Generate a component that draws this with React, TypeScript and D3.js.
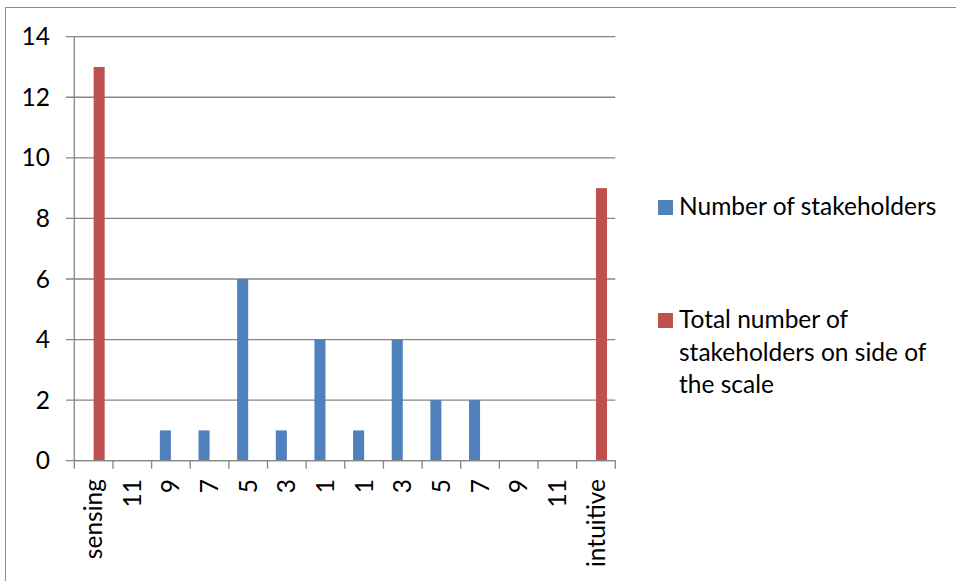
import React from "react";
import * as d3 from "d3";

// category labels along the scale, left (sensing) to right (intuitive)
const categories = ["sensing", "11", "9", "7", "5", "3", "1", "1", "3", "5", "7", "9", "11", "intuitive"];
const stakeholders = [0, 0, 1, 1, 6, 1, 4, 1, 4, 2, 2, 0, 0, 0];
const totals = [13, 0, 0, 0, 0, 0, 0, 0, 0, 0, 0, 0, 0, 9];
const yTicks = [0, 2, 4, 6, 8, 10, 12, 14];
const seriesNames = ["Number of stakeholders", "Total number of stakeholders on side of the scale"];
const legendLines = [["Number of stakeholders"], ["Total number of", "stakeholders on side of", "the scale"]];
const colors = ["#4F81BD", "#C0504D"];

const FONT = "Lato, 'Open Sans', sans-serif";
const FS = 24.5;

export default function App() {
  const width = 956;
  const height = 581;
  const margin = { top: 36.7, left: 74.3, right: 615.3, bottom: 460.7 };

  const x = d3.scaleBand<number>()
    .domain(categories.map((_, i) => i))
    .range([margin.left, margin.right])
    .padding(0);

  const xSub = d3.scaleBand<number>()
    .domain([0, 1])
    .range([0, x.bandwidth()])
    .paddingInner(0)
    .paddingOuter(0.75);

  const y = d3.scaleLinear().domain([0, 14]).range([margin.bottom, margin.top]);

  const series = [stakeholders, totals];
  const gridColor = "#868686";

  // tick boundaries between categories
  const bounds = categories.map((_, i) => x(i) as number).concat([margin.right]);

  return (
    <svg width={width} height={height} style={{ position: "absolute", left: 0, top: 0, background: "#fff" }}>
      <rect x={5.5} y={7.5} width={1200} height={1200} fill="#fff" stroke="#8c8c8c" strokeWidth={1} />

      {/* gridlines + y ticks */}
      {yTicks.map(t => (
        <g key={"g" + t}>
          <line x1={66} x2={margin.right} y1={y(t)} y2={y(t)} stroke={gridColor} strokeWidth={1.3} />
          <text x={50} y={y(t)} dy="0.35em" textAnchor="end" fontFamily={FONT} fontSize={FS} fill="#000">
            {t}
          </text>
        </g>
      ))}

      {/* y axis */}
      <line x1={margin.left} x2={margin.left} y1={margin.top} y2={margin.bottom} stroke={gridColor} strokeWidth={1.3} />

      {/* bars */}
      {series.map((vals, s) =>
        vals.map((v, i) =>
          v > 0 ? (
            <rect
              key={`b${s}-${i}`}
              x={(x(i) as number) + (xSub(s) as number)}
              y={y(v)}
              width={xSub.bandwidth()}
              height={y(0) - y(v)}
              fill={colors[s]}
            />
          ) : null
        )
      )}

      {/* x axis */}
      <line x1={margin.left} x2={margin.right} y1={y(0)} y2={y(0)} stroke={gridColor} strokeWidth={1.3} />
      {bounds.map((bx, i) => (
        <line key={"t" + i} x1={bx} x2={bx} y1={y(0)} y2={y(0) + 8} stroke={gridColor} strokeWidth={1.3} />
      ))}
      {categories.map((c, i) => {
        const cx = (x(i) as number) + x.bandwidth() / 2;
        return (
          <text
            key={"c" + i}
            transform={`translate(${cx},479) rotate(-90)`}
            dy="0.35em"
            textAnchor="end"
            fontFamily={FONT}
            fontSize={FS}
            fill="#000"
          >
            {c}
          </text>
        );
      })}

      {/* legend */}
      {seriesNames.map((name, s) => {
        const top = s === 0 ? 200 : 313;
        return (
          <g key={name}>
            <rect x={658} y={top} width={15} height={15} fill={colors[s]} />
            {legendLines[s].map((ln, j) => (
              <text key={j} x={679} y={top + 15 + j * 32.5} fontFamily={FONT} fontSize={FS} fill="#000">
                {ln}
              </text>
            ))}
          </g>
        );
      })}
    </svg>
  );
}
